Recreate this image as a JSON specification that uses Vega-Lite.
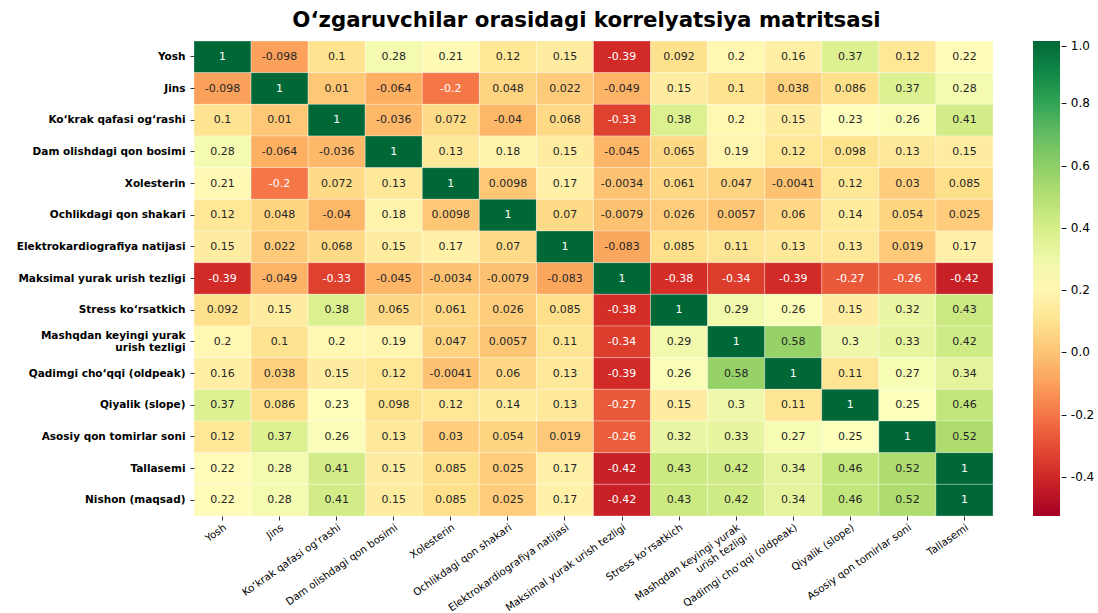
{
"$schema":"https://vega.github.io/schema/vega-lite/v6.json",
"width":799,"height":475,
"autosize":{"type":"none"},
"padding":{"left":194,"top":41,"right":105,"bottom":97},
"background":"white",
"title":{"text":"O‘zgaruvchilar orasidagi korrelyatsiya matritsasi","font":"DejaVu Sans","fontSize":21.3,"fontWeight":"bold","color":"#000","anchor":"middle","offset":9,"dx":-7},
"datasets":{
"names":[{"i":0,"name":"Yosh"},{"i":1,"name":"Jins"},{"i":2,"name":"Ko‘krak qafasi og‘rashi"},{"i":3,"name":"Dam olishdagi qon bosimi"},{"i":4,"name":"Xolesterin"},{"i":5,"name":"Ochlikdagi qon shakari"},{"i":6,"name":"Elektrokardiografiya natijasi"},{"i":7,"name":"Maksimal yurak urish tezligi"},{"i":8,"name":"Stress ko‘rsatkich"},{"i":9,"name":"Mashqdan keyingi yurak urish tezligi"},{"i":10,"name":"Qadimgi cho‘qqi (oldpeak)"},{"i":11,"name":"Qiyalik (slope)"},{"i":12,"name":"Asosiy qon tomirlar soni"},{"i":13,"name":"Tallasemi"},{"i":14,"name":"Nishon (maqsad)"}],
"cells":[
{"r":0,"c":0,"v":1},{"r":0,"c":1,"v":-0.098},{"r":0,"c":2,"v":0.1},{"r":0,"c":3,"v":0.28},{"r":0,"c":4,"v":0.21},{"r":0,"c":5,"v":0.12},{"r":0,"c":6,"v":0.15},{"r":0,"c":7,"v":-0.39},{"r":0,"c":8,"v":0.092},{"r":0,"c":9,"v":0.2},{"r":0,"c":10,"v":0.16},{"r":0,"c":11,"v":0.37},{"r":0,"c":12,"v":0.12},{"r":0,"c":13,"v":0.22},
{"r":1,"c":0,"v":-0.098},{"r":1,"c":1,"v":1},{"r":1,"c":2,"v":0.01},{"r":1,"c":3,"v":-0.064},{"r":1,"c":4,"v":-0.2},{"r":1,"c":5,"v":0.048},{"r":1,"c":6,"v":0.022},{"r":1,"c":7,"v":-0.049},{"r":1,"c":8,"v":0.15},{"r":1,"c":9,"v":0.1},{"r":1,"c":10,"v":0.038},{"r":1,"c":11,"v":0.086},{"r":1,"c":12,"v":0.37},{"r":1,"c":13,"v":0.28},
{"r":2,"c":0,"v":0.1},{"r":2,"c":1,"v":0.01},{"r":2,"c":2,"v":1},{"r":2,"c":3,"v":-0.036},{"r":2,"c":4,"v":0.072},{"r":2,"c":5,"v":-0.04},{"r":2,"c":6,"v":0.068},{"r":2,"c":7,"v":-0.33},{"r":2,"c":8,"v":0.38},{"r":2,"c":9,"v":0.2},{"r":2,"c":10,"v":0.15},{"r":2,"c":11,"v":0.23},{"r":2,"c":12,"v":0.26},{"r":2,"c":13,"v":0.41},
{"r":3,"c":0,"v":0.28},{"r":3,"c":1,"v":-0.064},{"r":3,"c":2,"v":-0.036},{"r":3,"c":3,"v":1},{"r":3,"c":4,"v":0.13},{"r":3,"c":5,"v":0.18},{"r":3,"c":6,"v":0.15},{"r":3,"c":7,"v":-0.045},{"r":3,"c":8,"v":0.065},{"r":3,"c":9,"v":0.19},{"r":3,"c":10,"v":0.12},{"r":3,"c":11,"v":0.098},{"r":3,"c":12,"v":0.13},{"r":3,"c":13,"v":0.15},
{"r":4,"c":0,"v":0.21},{"r":4,"c":1,"v":-0.2},{"r":4,"c":2,"v":0.072},{"r":4,"c":3,"v":0.13},{"r":4,"c":4,"v":1},{"r":4,"c":5,"v":0.0098},{"r":4,"c":6,"v":0.17},{"r":4,"c":7,"v":-0.0034},{"r":4,"c":8,"v":0.061},{"r":4,"c":9,"v":0.047},{"r":4,"c":10,"v":-0.0041},{"r":4,"c":11,"v":0.12},{"r":4,"c":12,"v":0.03},{"r":4,"c":13,"v":0.085},
{"r":5,"c":0,"v":0.12},{"r":5,"c":1,"v":0.048},{"r":5,"c":2,"v":-0.04},{"r":5,"c":3,"v":0.18},{"r":5,"c":4,"v":0.0098},{"r":5,"c":5,"v":1},{"r":5,"c":6,"v":0.07},{"r":5,"c":7,"v":-0.0079},{"r":5,"c":8,"v":0.026},{"r":5,"c":9,"v":0.0057},{"r":5,"c":10,"v":0.06},{"r":5,"c":11,"v":0.14},{"r":5,"c":12,"v":0.054},{"r":5,"c":13,"v":0.025},
{"r":6,"c":0,"v":0.15},{"r":6,"c":1,"v":0.022},{"r":6,"c":2,"v":0.068},{"r":6,"c":3,"v":0.15},{"r":6,"c":4,"v":0.17},{"r":6,"c":5,"v":0.07},{"r":6,"c":6,"v":1},{"r":6,"c":7,"v":-0.083},{"r":6,"c":8,"v":0.085},{"r":6,"c":9,"v":0.11},{"r":6,"c":10,"v":0.13},{"r":6,"c":11,"v":0.13},{"r":6,"c":12,"v":0.019},{"r":6,"c":13,"v":0.17},
{"r":7,"c":0,"v":-0.39},{"r":7,"c":1,"v":-0.049},{"r":7,"c":2,"v":-0.33},{"r":7,"c":3,"v":-0.045},{"r":7,"c":4,"v":-0.0034},{"r":7,"c":5,"v":-0.0079},{"r":7,"c":6,"v":-0.083},{"r":7,"c":7,"v":1},{"r":7,"c":8,"v":-0.38},{"r":7,"c":9,"v":-0.34},{"r":7,"c":10,"v":-0.39},{"r":7,"c":11,"v":-0.27},{"r":7,"c":12,"v":-0.26},{"r":7,"c":13,"v":-0.42},
{"r":8,"c":0,"v":0.092},{"r":8,"c":1,"v":0.15},{"r":8,"c":2,"v":0.38},{"r":8,"c":3,"v":0.065},{"r":8,"c":4,"v":0.061},{"r":8,"c":5,"v":0.026},{"r":8,"c":6,"v":0.085},{"r":8,"c":7,"v":-0.38},{"r":8,"c":8,"v":1},{"r":8,"c":9,"v":0.29},{"r":8,"c":10,"v":0.26},{"r":8,"c":11,"v":0.15},{"r":8,"c":12,"v":0.32},{"r":8,"c":13,"v":0.43},
{"r":9,"c":0,"v":0.2},{"r":9,"c":1,"v":0.1},{"r":9,"c":2,"v":0.2},{"r":9,"c":3,"v":0.19},{"r":9,"c":4,"v":0.047},{"r":9,"c":5,"v":0.0057},{"r":9,"c":6,"v":0.11},{"r":9,"c":7,"v":-0.34},{"r":9,"c":8,"v":0.29},{"r":9,"c":9,"v":1},{"r":9,"c":10,"v":0.58},{"r":9,"c":11,"v":0.3},{"r":9,"c":12,"v":0.33},{"r":9,"c":13,"v":0.42},
{"r":10,"c":0,"v":0.16},{"r":10,"c":1,"v":0.038},{"r":10,"c":2,"v":0.15},{"r":10,"c":3,"v":0.12},{"r":10,"c":4,"v":-0.0041},{"r":10,"c":5,"v":0.06},{"r":10,"c":6,"v":0.13},{"r":10,"c":7,"v":-0.39},{"r":10,"c":8,"v":0.26},{"r":10,"c":9,"v":0.58},{"r":10,"c":10,"v":1},{"r":10,"c":11,"v":0.11},{"r":10,"c":12,"v":0.27},{"r":10,"c":13,"v":0.34},
{"r":11,"c":0,"v":0.37},{"r":11,"c":1,"v":0.086},{"r":11,"c":2,"v":0.23},{"r":11,"c":3,"v":0.098},{"r":11,"c":4,"v":0.12},{"r":11,"c":5,"v":0.14},{"r":11,"c":6,"v":0.13},{"r":11,"c":7,"v":-0.27},{"r":11,"c":8,"v":0.15},{"r":11,"c":9,"v":0.3},{"r":11,"c":10,"v":0.11},{"r":11,"c":11,"v":1},{"r":11,"c":12,"v":0.25},{"r":11,"c":13,"v":0.46},
{"r":12,"c":0,"v":0.12},{"r":12,"c":1,"v":0.37},{"r":12,"c":2,"v":0.26},{"r":12,"c":3,"v":0.13},{"r":12,"c":4,"v":0.03},{"r":12,"c":5,"v":0.054},{"r":12,"c":6,"v":0.019},{"r":12,"c":7,"v":-0.26},{"r":12,"c":8,"v":0.32},{"r":12,"c":9,"v":0.33},{"r":12,"c":10,"v":0.27},{"r":12,"c":11,"v":0.25},{"r":12,"c":12,"v":1},{"r":12,"c":13,"v":0.52},
{"r":13,"c":0,"v":0.22},{"r":13,"c":1,"v":0.28},{"r":13,"c":2,"v":0.41},{"r":13,"c":3,"v":0.15},{"r":13,"c":4,"v":0.085},{"r":13,"c":5,"v":0.025},{"r":13,"c":6,"v":0.17},{"r":13,"c":7,"v":-0.42},{"r":13,"c":8,"v":0.43},{"r":13,"c":9,"v":0.42},{"r":13,"c":10,"v":0.34},{"r":13,"c":11,"v":0.46},{"r":13,"c":12,"v":0.52},{"r":13,"c":13,"v":1},
{"r":14,"c":0,"v":0.22},{"r":14,"c":1,"v":0.28},{"r":14,"c":2,"v":0.41},{"r":14,"c":3,"v":0.15},{"r":14,"c":4,"v":0.085},{"r":14,"c":5,"v":0.025},{"r":14,"c":6,"v":0.17},{"r":14,"c":7,"v":-0.42},{"r":14,"c":8,"v":0.43},{"r":14,"c":9,"v":0.42},{"r":14,"c":10,"v":0.34},{"r":14,"c":11,"v":0.46},{"r":14,"c":12,"v":0.52},{"r":14,"c":13,"v":1}
]},
"data":{"name":"cells"},
"transform":[
{"lookup":"r","from":{"data":{"name":"names"},"key":"i","fields":["name"]},"as":["row"]},
{"lookup":"c","from":{"data":{"name":"names"},"key":"i","fields":["name"]},"as":["col"]}
],
"encoding":{
"x":{"field":"col","type":"nominal","sort":{"field":"c","op":"min"},"title":null,
"axis":{"orient":"bottom","domain":false,"ticks":true,"tickSize":4,"tickColor":"#333","labelAngle":-35,"labelAlign":"right","labelBaseline":"top","labelFont":"DejaVu Sans","labelFontSize":10.3,"labelColor":"#000","labelPadding":2,"labelLimit":300,
"labelExpr":"datum.label == 'Mashqdan keyingi yurak urish tezligi' ? ['Mashqdan keyingi yurak', 'urish tezligi'] : datum.label"}},
"y":{"field":"row","type":"nominal","sort":{"field":"r","op":"min"},"title":null,
"axis":{"domain":false,"ticks":true,"tickSize":4,"tickColor":"#333","labelFont":"DejaVu Sans","labelFontSize":10.5,"labelFontWeight":"bold","labelColor":"#000","labelPadding":5,"labelLimit":300,
"labelOffset":{"condition":{"test":"datum.value == 'Mashqdan keyingi yurak urish tezligi'","value":-6},"value":0},
"labelExpr":"datum.label == 'Mashqdan keyingi yurak urish tezligi' ? ['Mashqdan keyingi yurak', 'urish tezligi'] : datum.label"}}
},
"layer":[
{"mark":{"type":"rect","stroke":"white","strokeWidth":0.5,"strokeOpacity":0.6},
"encoding":{"color":{"field":"v","type":"quantitative",
"scale":{"domain":[-0.525,-0.3725,-0.22,-0.0675,0.085,0.2375,0.39,0.5425,0.695,0.8475,1.0],"range":["#a50026","#d73027","#f46d43","#fdae61","#fee08b","#ffffbf","#d9ef8b","#a6d96a","#66bd63","#1a9850","#006837"],"interpolate":"rgb"},
"legend":{"orient":"none","legendX":839,"legendY":0,"direction":"vertical","title":null,"gradientLength":475,"gradientThickness":27,"gradientStrokeWidth":0,"values":[-0.4,-0.2,0,0.2,0.4,0.6,0.8,1.0],"labelExpr":"'– ' + replace(format(datum.value, '.1f'), '−', '-')","labelFont":"DejaVu Sans","labelFontSize":12,"labelColor":"#000","labelOffset":1,"labelOverlap":false}}}},
{"mark":{"type":"text","font":"DejaVu Sans","fontSize":11},
"encoding":{"text":{"field":"v","type":"nominal"},
"color":{"condition":{"test":"datum.v <= -0.2 || datum.v >= 0.9","value":"white"},"value":"#262626"}}}
],
"config":{"view":{"stroke":null}}
}
